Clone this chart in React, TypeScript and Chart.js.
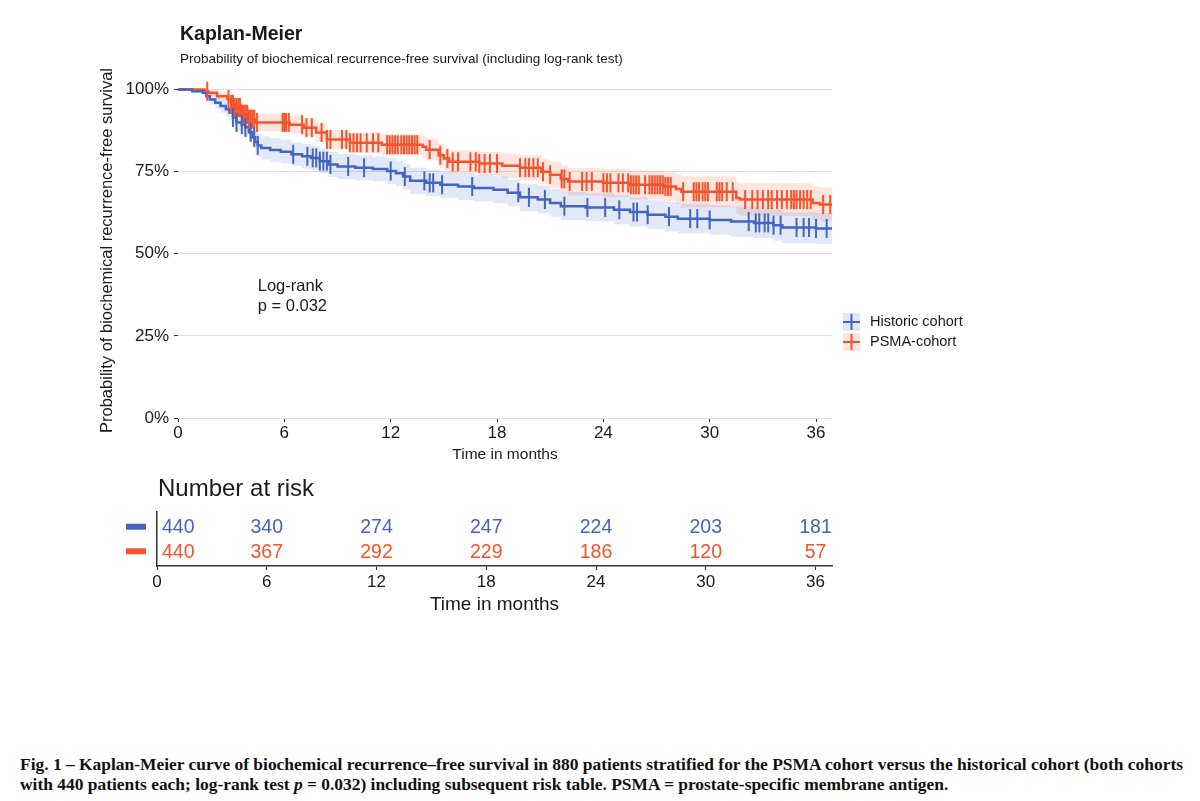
import React, { useEffect, useRef } from "react";
import { Chart, registerables } from "chart.js";

Chart.register(...registerables);

// ---------- data ----------
const X_TICKS = [0, 6, 12, 18, 24, 30, 36];
const Y_TICKS = [0, 0.25, 0.5, 0.75, 1];
const X_MAX = 36.9;
const GROUPS = ["Historic cohort", "PSMA-cohort"];

const HIST_TIME = [0, 0.8, 1.4, 1.6, 1.8, 2.1, 2.4, 2.7, 2.9, 3.1, 3.3, 3.6, 3.8, 4.0, 4.2, 4.35, 4.5, 4.7, 5.2, 5.8, 6.4, 7.0, 7.5, 8.0, 8.5, 9.0, 10.0, 11.0, 11.8, 12.3, 12.7, 13.1, 14.0, 14.8, 15.8, 16.7, 17.8, 18.6, 19.3, 20.3, 21.0, 21.6, 23.0, 24.6, 25.5, 26.5, 27.5, 28.2, 30.0, 31.2, 32.5, 33.6, 34.1, 36.0, 36.9];
const HIST_SURV = [1.0, 0.995, 0.99, 0.98, 0.97, 0.96, 0.95, 0.94, 0.93, 0.915, 0.9, 0.893, 0.885, 0.87, 0.855, 0.84, 0.83, 0.822, 0.816, 0.811, 0.803, 0.797, 0.792, 0.782, 0.772, 0.766, 0.762, 0.758, 0.752, 0.745, 0.735, 0.722, 0.716, 0.71, 0.705, 0.7, 0.695, 0.686, 0.672, 0.665, 0.655, 0.645, 0.641, 0.634, 0.627, 0.619, 0.613, 0.607, 0.603, 0.598, 0.594, 0.587, 0.58, 0.577, 0.577];
const HIST_LOWER = [1.0, 0.988, 0.981, 0.967, 0.954, 0.942, 0.93, 0.918, 0.906, 0.889, 0.872, 0.864, 0.855, 0.839, 0.822, 0.806, 0.795, 0.787, 0.78, 0.775, 0.767, 0.76, 0.755, 0.745, 0.734, 0.728, 0.724, 0.72, 0.713, 0.706, 0.696, 0.682, 0.676, 0.67, 0.664, 0.659, 0.654, 0.645, 0.63, 0.623, 0.613, 0.602, 0.598, 0.59, 0.583, 0.575, 0.568, 0.562, 0.558, 0.552, 0.548, 0.54, 0.533, 0.53, 0.53];
const HIST_UPPER = [1.0, 1.0, 0.999, 0.993, 0.986, 0.978, 0.97, 0.962, 0.954, 0.941, 0.928, 0.922, 0.915, 0.901, 0.888, 0.874, 0.865, 0.857, 0.852, 0.847, 0.839, 0.834, 0.829, 0.82, 0.81, 0.804, 0.8, 0.796, 0.791, 0.784, 0.774, 0.762, 0.756, 0.75, 0.746, 0.741, 0.736, 0.727, 0.714, 0.707, 0.697, 0.688, 0.684, 0.678, 0.671, 0.663, 0.658, 0.652, 0.648, 0.644, 0.64, 0.634, 0.627, 0.624, 0.624];
const HIST_CENSOR = [3.1, 3.3, 3.6, 3.8, 4.1, 4.3, 4.5, 6.5, 7.3, 7.6, 7.8, 8.0, 8.2, 8.4, 8.6, 9.6, 10.5, 12.0, 12.8, 13.9, 14.2, 14.4, 14.9, 16.6, 19.2, 19.8, 20.7, 21.8, 23.1, 24.1, 24.9, 25.7, 25.9, 26.5, 27.7, 28.9, 29.3, 30.0, 32.2, 32.6, 32.8, 33.1, 33.3, 33.6, 34.0, 34.9, 35.3, 35.6, 36.0, 36.6];

const PSMA_TIME = [0, 1.5, 1.7, 2.2, 2.8, 3.0, 3.2, 3.6, 4.0, 4.4, 6.3, 7.1, 7.8, 8.4, 9.7, 11.5, 13.8, 14.0, 14.7, 15.0, 15.3, 17.0, 18.3, 19.3, 20.5, 21.0, 21.6, 22.0, 24.0, 25.5, 27.4, 28.1, 28.4, 31.5, 31.7, 35.8, 36.2, 36.9];
const PSMA_SURV = [1.0, 0.995, 0.99, 0.98, 0.97, 0.955, 0.945, 0.925, 0.91, 0.9, 0.893, 0.884, 0.869, 0.848, 0.838, 0.832, 0.826, 0.817, 0.8, 0.79, 0.78, 0.775, 0.768, 0.762, 0.75, 0.741, 0.728, 0.72, 0.716, 0.71, 0.705, 0.697, 0.689, 0.67, 0.665, 0.655, 0.65, 0.65];
const PSMA_LOWER = [1.0, 0.988, 0.981, 0.968, 0.955, 0.937, 0.925, 0.902, 0.885, 0.874, 0.866, 0.856, 0.84, 0.818, 0.807, 0.8, 0.793, 0.784, 0.766, 0.755, 0.745, 0.739, 0.731, 0.724, 0.711, 0.701, 0.687, 0.678, 0.673, 0.666, 0.66, 0.651, 0.642, 0.621, 0.615, 0.604, 0.598, 0.598];
const PSMA_UPPER = [1.0, 1.0, 0.999, 0.992, 0.985, 0.973, 0.965, 0.948, 0.935, 0.926, 0.92, 0.912, 0.898, 0.878, 0.869, 0.864, 0.859, 0.85, 0.834, 0.825, 0.815, 0.811, 0.805, 0.8, 0.789, 0.781, 0.769, 0.762, 0.759, 0.754, 0.75, 0.743, 0.736, 0.719, 0.715, 0.706, 0.702, 0.702];
const PSMA_CENSOR = [1.65, 2.85, 3.0, 3.1, 3.2, 3.3, 3.4, 3.5, 3.6, 3.7, 3.8, 3.9, 4.0, 4.1, 4.2, 4.3, 4.45, 5.9, 6.0, 6.1, 6.25, 7.0, 7.25, 7.55, 8.1, 8.4, 8.6, 9.25, 9.5, 9.7, 9.9, 10.1, 10.3, 10.65, 11.0, 11.3, 11.8, 11.95, 12.1, 12.25, 12.4, 12.6, 12.75, 12.9, 13.05, 13.2, 13.35, 13.5, 14.2, 14.8, 15.2, 15.5, 15.8, 16.5, 16.8, 17.0, 17.3, 17.6, 18.0, 19.3, 19.6, 19.8, 20.05, 20.3, 20.6, 21.0, 21.65, 21.8, 22.1, 22.8, 23.05, 23.35, 24.0, 24.2, 24.4, 24.85, 25.1, 25.4, 25.55, 25.7, 25.85, 26.0, 26.35, 26.6, 26.75, 26.9, 27.05, 27.2, 27.35, 27.5, 27.65, 27.8, 28.5, 29.1, 29.25, 29.4, 29.6, 29.75, 29.9, 30.4, 30.55, 30.7, 30.96, 31.3, 32.0, 32.4, 32.7, 33.0, 33.3, 33.5, 33.8, 34.07, 34.35, 34.6, 34.75, 34.9, 35.1, 35.3, 35.5, 35.7, 36.4, 36.8];

const RISK_TIMES = [0, 6, 12, 18, 24, 30, 36];
const RISK_HIST = [440, 340, 274, 247, 224, 203, 181];
const RISK_PSMA = [440, 367, 292, 229, 186, 120, 57];

const TITLE = "Kaplan-Meier";
const SUBTITLE = "Probability of biochemical recurrence-free survival (including log-rank test)";
const Y_TITLE = "Probability of biochemical recurrence-free survival";
const X_TITLE = "Time in months";
const RISK_TITLE = "Number at risk";
const LOGRANK_LINES = ["Log-rank", "p = 0.032"];
const LOGRANK_T = 4.5;
const LOGRANK_S = 0.4;

// ---------- style ----------
const FONT = "'Liberation Sans', Arial, sans-serif";
const TEXT = "#1a1a1a";
const COLORS = ["#4365c0", "#f5532c"];
const BANDS = ["rgba(67,101,192,0.15)", "rgba(245,83,44,0.15)"];

function stepAt(times: number[], vals: number[], t: number) {
  let v = vals[0];
  for (let i = 0; i < times.length; i++) if (times[i] <= t) v = vals[i];
  return v;
}
const toXY = (times: number[], vals: number[]) => times.map((t, i) => ({ x: t, y: vals[i] }));

const kmDecor = {
  id: "kmDecor",
  afterDraw(chart: any) {
    const { ctx, chartArea, scales } = chart;
    ctx.save();
    ctx.fillStyle = TEXT;
    ctx.textAlign = "left";
    ctx.textBaseline = "alphabetic";
    ctx.font = `bold 19.5px ${FONT}`;
    ctx.fillText(TITLE, chartArea.left + 2, 40);
    ctx.font = `13.5px ${FONT}`;
    ctx.fillText(SUBTITLE, chartArea.left + 2, 63);

    ctx.font = `16.5px ${FONT}`;
    ctx.textBaseline = "middle";
    const lx = scales.x.getPixelForValue(LOGRANK_T);
    const ly = scales.y.getPixelForValue(LOGRANK_S);
    LOGRANK_LINES.forEach((s, i) => ctx.fillText(s, lx, ly + i * 20));

    const kx = chartArea.right + 11;
    GROUPS.forEach((g, i) => {
      const cy = chartArea.bottom - 96 + i * 20;
      ctx.fillStyle = BANDS[i];
      ctx.fillRect(kx, cy - 9, 17, 18);
      ctx.strokeStyle = COLORS[i];
      ctx.lineWidth = 2;
      ctx.beginPath();
      ctx.moveTo(kx, cy);
      ctx.lineTo(kx + 17, cy);
      ctx.moveTo(kx + 8.5, cy - 8);
      ctx.lineTo(kx + 8.5, cy + 8);
      ctx.stroke();
      ctx.fillStyle = TEXT;
      ctx.font = `14.5px ${FONT}`;
      ctx.fillText(g, kx + 27, cy);
    });
    ctx.restore();
  },
};

const riskDecor = {
  id: "riskDecor",
  afterDatasetsDraw(chart: any) {
    const { ctx, chartArea } = chart;
    ctx.save();
    ctx.textBaseline = "middle";
    chart.data.datasets.forEach((ds: any, di: number) => {
      const meta = chart.getDatasetMeta(di);
      ctx.font = `19.5px ${FONT}`;
      ctx.fillStyle = COLORS[di];
      meta.data.forEach((el: any, i: number) => {
        const txt = String(ds.data[i].n);
        const w = ctx.measureText(txt).width;
        if (el.x - w / 2 < chartArea.left + 4) {
          ctx.textAlign = "left";
          ctx.fillText(txt, chartArea.left + 5, el.y + 1);
        } else {
          ctx.textAlign = "center";
          ctx.fillText(txt, el.x, el.y + 1);
        }
      });
      ctx.fillRect(chartArea.left - 31, meta.data[0].y - 3, 20, 6);
    });
    ctx.font = `24px ${FONT}`;
    ctx.fillStyle = TEXT;
    ctx.textAlign = "left";
    ctx.fillText(RISK_TITLE, chartArea.left + 1, 19.5);
    ctx.restore();
  },
};

function bandSet(times: number[], vals: number[], fill: any, color: string) {
  return {
    data: toXY(times, vals),
    stepped: "before",
    borderColor: "transparent",
    borderWidth: 0,
    pointRadius: 0,
    fill,
    backgroundColor: color,
    order: 3,
  };
}
function lineSet(times: number[], vals: number[], color: string) {
  return {
    data: toXY(times, vals),
    stepped: "before",
    borderColor: color,
    borderWidth: 2.5,
    pointRadius: 0,
    fill: false,
    order: 2,
  };
}
function censorSet(cens: number[], times: number[], vals: number[], color: string) {
  return {
    data: cens.map((t) => ({ x: t, y: stepAt(times, vals, t) })),
    showLine: false,
    pointStyle: "line",
    pointRotation: 90,
    pointRadius: 9.5,
    pointBorderWidth: 2,
    pointBorderColor: color,
    pointBackgroundColor: color,
    clip: false,
    order: 1,
  };
}

function mainConfig(): any {
  return {
    type: "line",
    data: {
      datasets: [
        bandSet(HIST_TIME, HIST_LOWER, false, BANDS[0]),
        bandSet(HIST_TIME, HIST_UPPER, "-1", BANDS[0]),
        bandSet(PSMA_TIME, PSMA_LOWER, false, BANDS[1]),
        bandSet(PSMA_TIME, PSMA_UPPER, "-1", BANDS[1]),
        lineSet(HIST_TIME, HIST_SURV, COLORS[0]),
        lineSet(PSMA_TIME, PSMA_SURV, COLORS[1]),
        censorSet(HIST_CENSOR, HIST_TIME, HIST_SURV, COLORS[0]),
        censorSet(PSMA_CENSOR, PSMA_TIME, PSMA_SURV, COLORS[1]),
      ],
    },
    options: {
      responsive: false,
      animation: false,
      events: [],
      layout: { padding: { left: 0, top: 83, right: 188, bottom: 0 } },
      plugins: { legend: { display: false }, tooltip: { enabled: false }, title: { display: false } },
      scales: {
        x: {
          type: "linear",
          min: 0,
          max: X_MAX,
          afterBuildTicks: (s: any) => {
            s.ticks = X_TICKS.map((v) => ({ value: v }));
          },
          afterFit: (s: any) => {
            s.height = 52;
          },
          grid: { display: true, drawOnChartArea: false, drawTicks: true, tickLength: 4, tickColor: "#333", tickWidth: 1 },
          border: { display: false },
          ticks: { font: { family: FONT, size: 17 }, color: TEXT, padding: 1, maxRotation: 0, autoSkip: false },
          title: { display: true, text: X_TITLE, font: { family: FONT, size: 15.5 }, color: TEXT, padding: { top: 0, bottom: 6 } },
        },
        y: {
          type: "linear",
          min: 0,
          max: 1.02,
          afterBuildTicks: (s: any) => {
            s.ticks = Y_TICKS.map((v) => ({ value: v }));
          },
          afterFit: (s: any) => {
            s.width = 178;
          },
          grid: { color: "#e0e0e0", lineWidth: 1, drawTicks: true, tickLength: 4, tickColor: "#333", tickWidth: 1 },
          border: { display: false },
          ticks: {
            font: { family: FONT, size: 17 },
            color: TEXT,
            padding: 5,
            callback: (v: any) => Math.round(v * 100) + "%",
          },
          title: { display: true, text: Y_TITLE, font: { family: FONT, size: 16.5 }, color: TEXT, padding: { top: 98, bottom: 0 } },
        },
      },
    },
    plugins: [kmDecor],
  };
}

function riskSet(vals: number[], row: number) {
  return {
    data: RISK_TIMES.map((t, i) => ({ x: t, y: row, n: vals[i] })),
    showLine: false,
    pointRadius: 0,
  };
}

function riskConfig(): any {
  return {
    type: "line",
    data: { datasets: [riskSet(RISK_HIST, 1), riskSet(RISK_PSMA, 2)] },
    options: {
      responsive: false,
      animation: false,
      events: [],
      layout: { padding: { left: 0, top: 42, right: 188, bottom: 0 } },
      plugins: { legend: { display: false }, tooltip: { enabled: false } },
      scales: {
        x: {
          type: "linear",
          min: 0,
          max: X_MAX,
          afterBuildTicks: (s: any) => {
            s.ticks = X_TICKS.map((v) => ({ value: v }));
          },
          afterFit: (s: any) => {
            s.height = 64;
          },
          grid: { display: true, drawOnChartArea: false, drawTicks: true, tickLength: 4, tickColor: "#333", tickWidth: 1.2 },
          border: { display: true, color: "#333", width: 1.5 },
          ticks: { font: { family: FONT, size: 17 }, color: TEXT, padding: 2, maxRotation: 0, autoSkip: false },
          title: { display: true, text: X_TITLE, font: { family: FONT, size: 19 }, color: TEXT, padding: { top: 0, bottom: 14 } },
        },
        y: {
          type: "linear",
          min: 0.4,
          max: 2.6,
          reverse: true,
          afterFit: (s: any) => {
            s.width = 157;
          },
          grid: { display: false },
          border: { display: true, color: "#333", width: 1.5 },
          ticks: { display: false },
        },
      },
    },
    plugins: [riskDecor],
  };
}

export default function App() {
  const mainRef = useRef<HTMLCanvasElement>(null);
  const riskRef = useRef<HTMLCanvasElement>(null);
  const capRef = useRef<HTMLDivElement>(null);
  const line1Ref = useRef<HTMLSpanElement>(null);

  useEffect(() => {
    const c1 = new Chart(mainRef.current as HTMLCanvasElement, mainConfig());
    const c2 = new Chart(riskRef.current as HTMLCanvasElement, riskConfig());
    const fit = () => {
      if (!line1Ref.current || !capRef.current) return;
      capRef.current.style.transform = "none";
      const w = line1Ref.current.getBoundingClientRect().width;
      if (w > 0) capRef.current.style.transform = `scaleX(${1163 / w})`;
    };
    fit();
    if ((document as any).fonts && (document as any).fonts.ready) (document as any).fonts.ready.then(fit);
    return () => {
      c1.destroy();
      c2.destroy();
    };
  }, []);

  const capStyle: React.CSSProperties = {
    position: "absolute",
    left: 20,
    top: 755,
    fontFamily: "'Liberation Serif', 'Times New Roman', serif",
    fontWeight: "bold",
    fontSize: 16,
    lineHeight: "20px",
    color: "#111",
    whiteSpace: "nowrap",
    transformOrigin: "left top",
  };

  return (
    <div style={{ position: "absolute", left: 0, top: 0, width: 1200, height: 801, background: "#fff", overflow: "hidden" }}>
      <canvas ref={mainRef} width={1020} height={470} style={{ position: "absolute", left: 0, top: 0, width: 1020, height: 470 }} />
      <canvas ref={riskRef} width={1020} height={160} style={{ position: "absolute", left: 0, top: 470, width: 1020, height: 160 }} />
      <div ref={capRef} style={capStyle}>
        <span ref={line1Ref}>
          Fig. 1 – Kaplan-Meier curve of biochemical recurrence–free survival in 880 patients stratified for the PSMA cohort versus the historical cohort (both cohorts
        </span>
        <br />
        <span>
          with 440 patients each; log-rank test <i>p</i> = 0.032) including subsequent risk table. PSMA = prostate-specific membrane antigen.
        </span>
      </div>
    </div>
  );
}
